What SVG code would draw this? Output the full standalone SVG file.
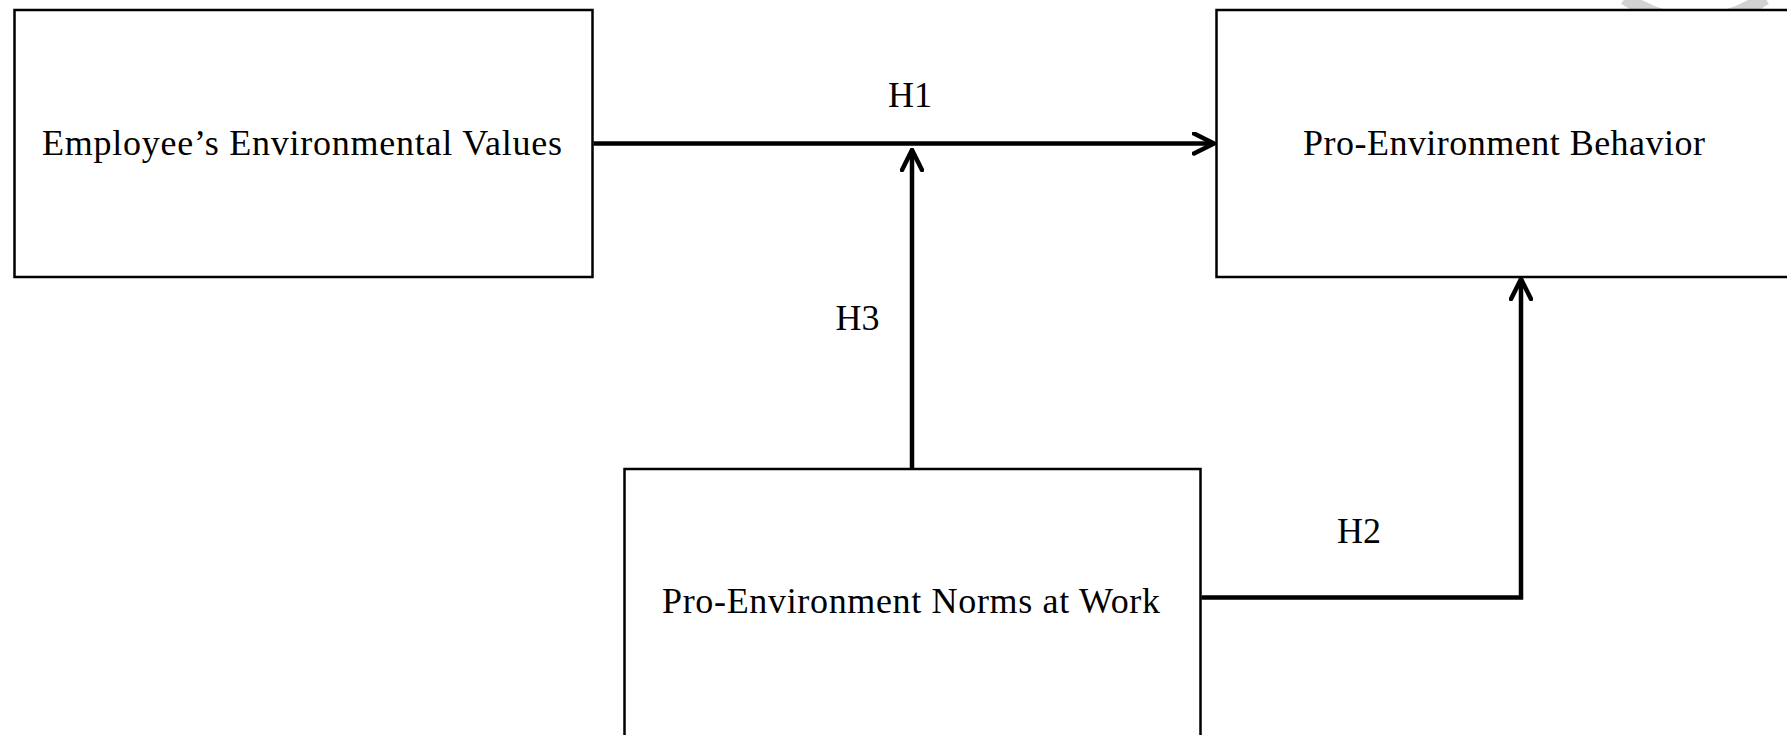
<svg xmlns="http://www.w3.org/2000/svg" width="1787" height="735" viewBox="0 0 1787 735">
<style>
.box{fill:#fff;stroke:#000;stroke-width:2.5}
.lbl{font-family:"Liberation Serif","Times New Roman",serif;font-size:36px;fill:#000}
.mid{text-anchor:middle}
.conn{fill:none;stroke:#000;stroke-width:4.5;stroke-linecap:butt;stroke-linejoin:miter}
</style>
<defs>
<marker id="arr" viewBox="-22 -12 24 24" refX="0" refY="0" markerWidth="24" markerHeight="24" markerUnits="userSpaceOnUse" orient="auto">
<path d="M-20,-10 L0,0 L-20,10" fill="none" stroke="#000" stroke-width="4.5" stroke-linecap="round" stroke-linejoin="miter"/>
</marker>
</defs>
<rect width="1787" height="735" fill="#fff"/>
<path d="M1625,-2 Q1695,45 1765,-2" fill="none" stroke="#d2d2d2" stroke-width="14"/>
<g id="node-values">
<rect class="box" x="14.5" y="10" width="578" height="267"/>
<text class="lbl" x="42" y="155" textLength="520">Employee’s Environmental Values</text>
</g>
<g id="node-behavior">
<rect class="box" x="1216.5" y="10" width="590" height="267"/>
<text class="lbl" x="1303" y="155" textLength="402">Pro-Environment Behavior</text>
</g>
<g id="node-norms">
<rect class="box" x="624.5" y="469" width="576" height="290"/>
<text class="lbl" x="662" y="613" textLength="498">Pro-Environment Norms at Work</text>
</g>
<g id="connectors">
<path class="conn" d="M593.5,143.5 L1214,143.5" marker-end="url(#arr)"/>
<path class="conn" d="M912,468 L912,150" marker-end="url(#arr)"/>
<path class="conn" d="M1201.5,597.5 L1521,597.5 L1521,279" marker-end="url(#arr)"/>
<text class="lbl mid" x="910" y="106.5">H1</text>
<text class="lbl mid" x="857.5" y="330">H3</text>
<text class="lbl mid" x="1359" y="543">H2</text>
</g>
</svg>
